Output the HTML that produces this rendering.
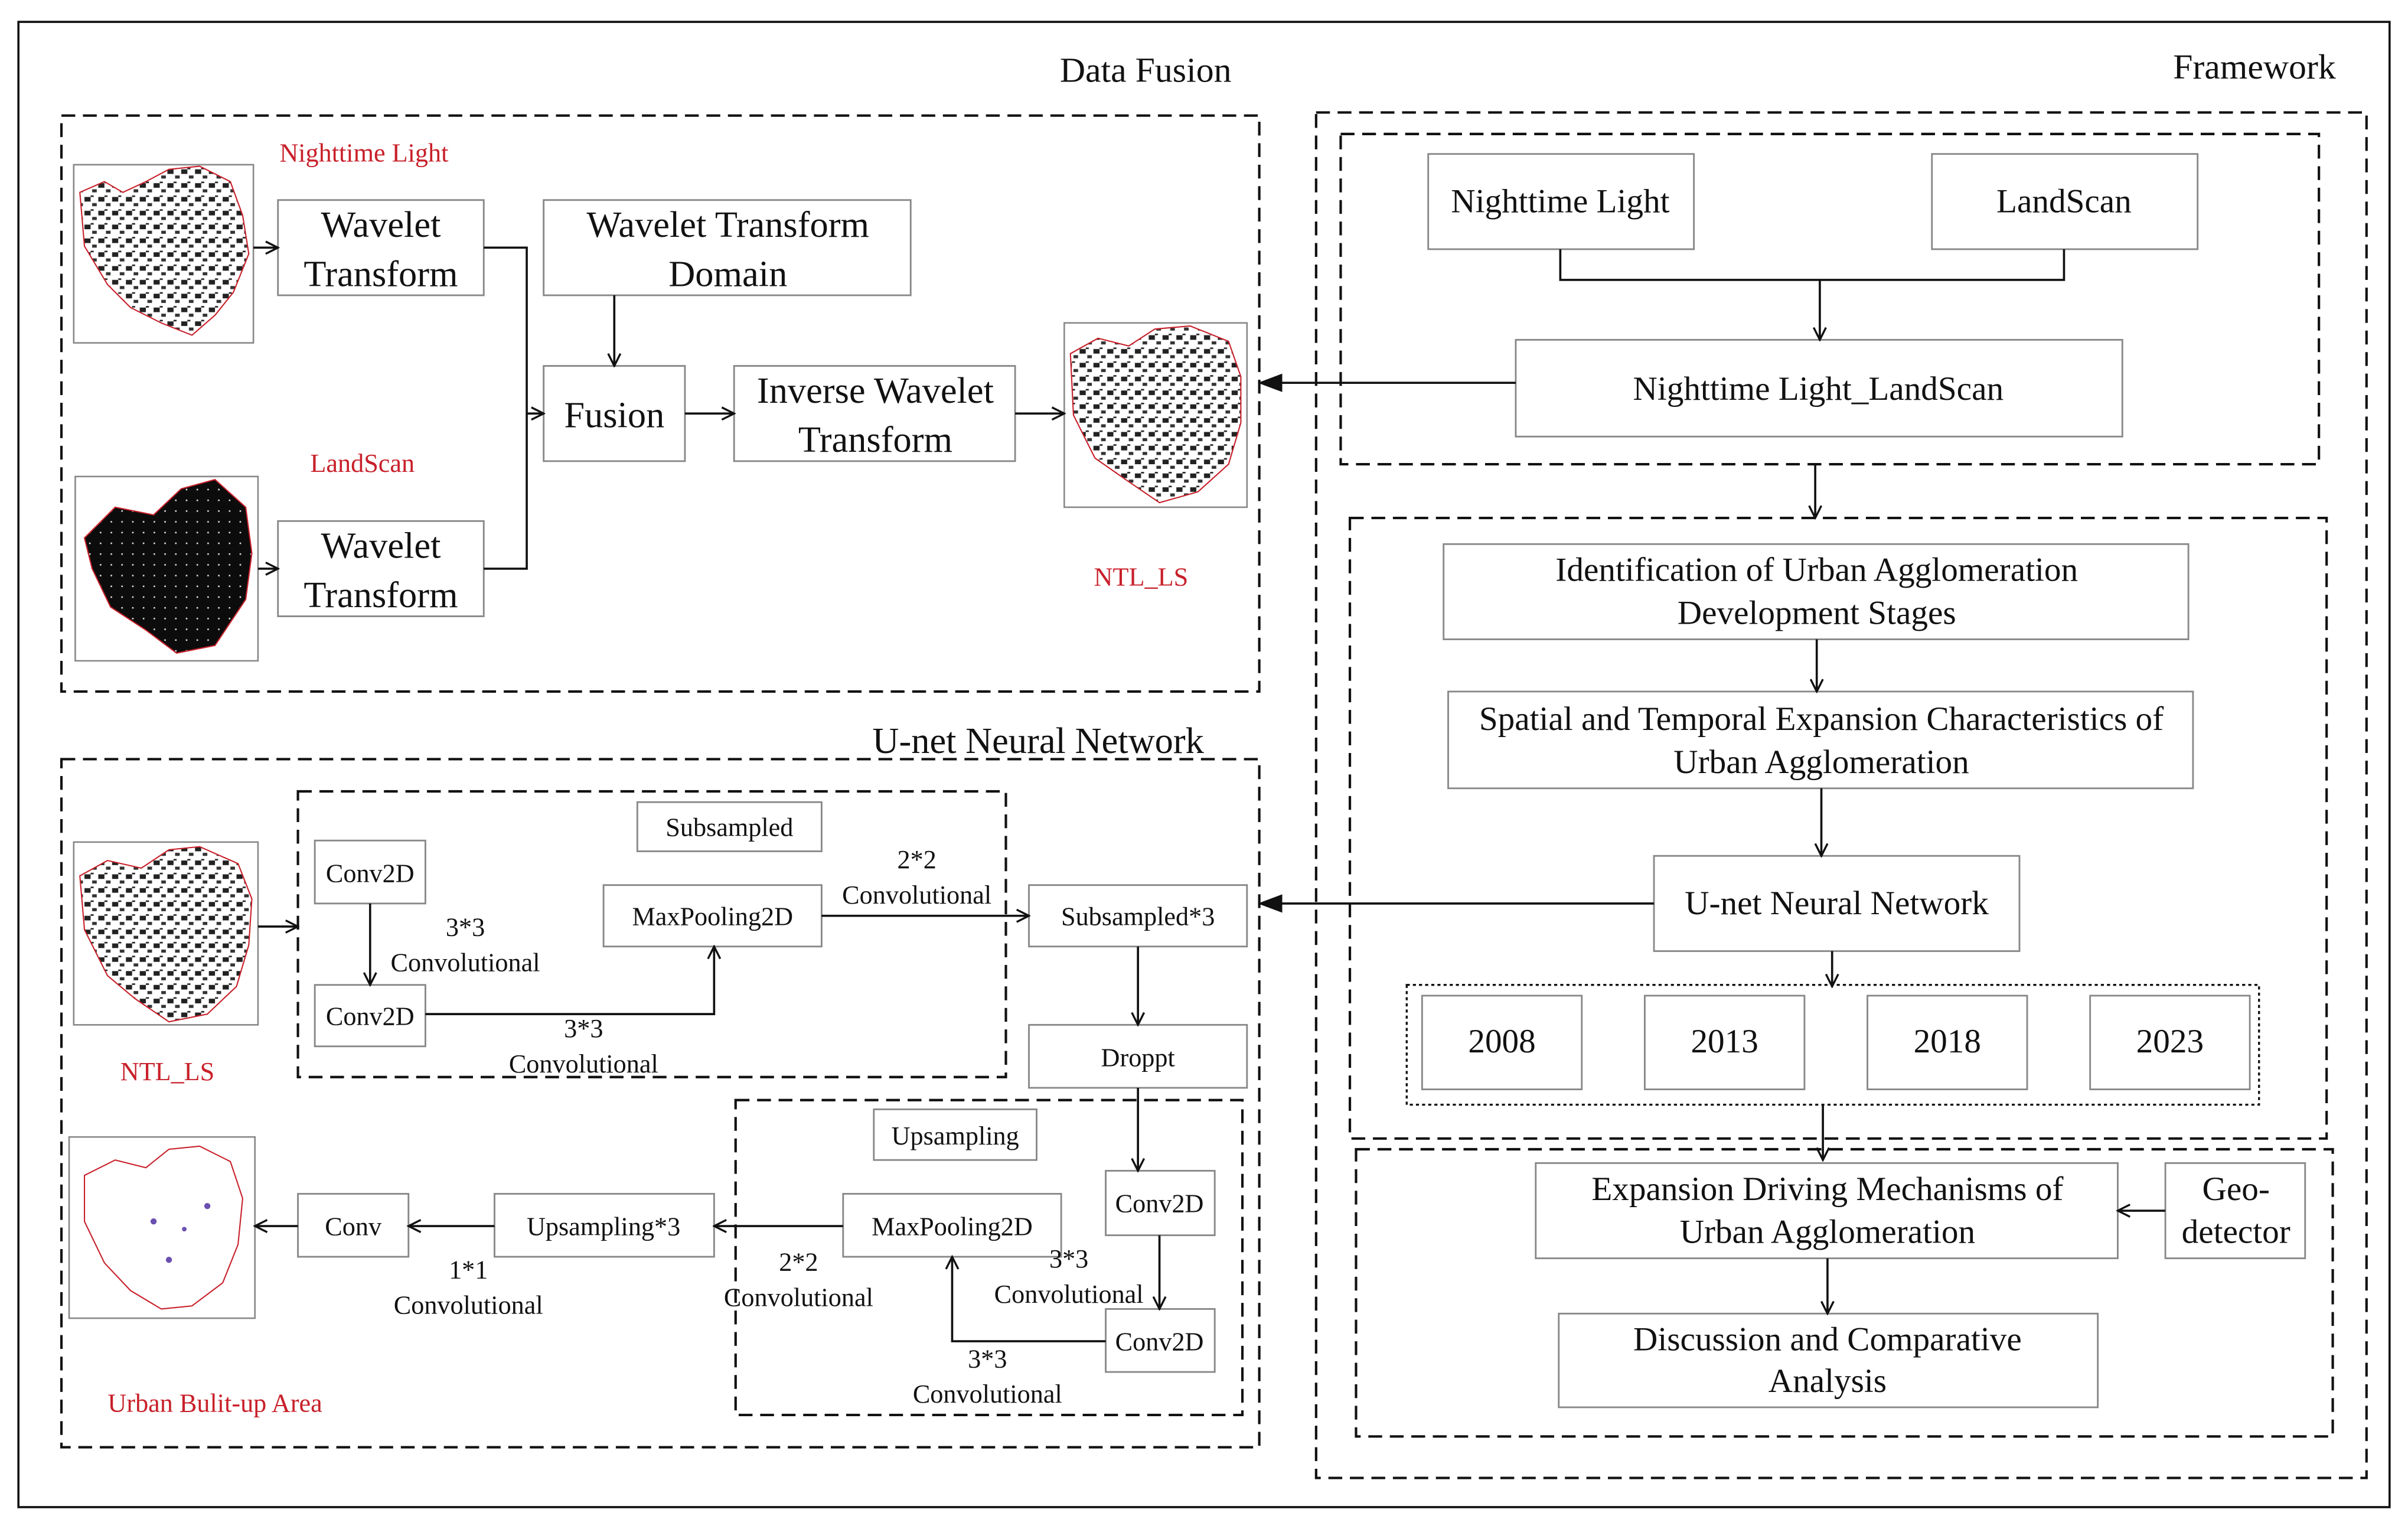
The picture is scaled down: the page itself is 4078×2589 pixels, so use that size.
<!DOCTYPE html>
<html><head><meta charset="utf-8">
<style>
html,body{margin:0;padding:0;background:#fff;}
svg{display:block;}
text{font-family:"Liberation Serif",serif;fill:#111;}
.r{fill:#c8202a;}
</style></head>
<body>
<svg width="4078" height="2589" viewBox="0 0 1568 995" xmlns="http://www.w3.org/2000/svg">
<defs>
<marker id="a" markerWidth="10" markerHeight="10" refX="9" refY="5" orient="auto" markerUnits="userSpaceOnUse">
<path d="M1,1 L9,5 L1,9" fill="none" stroke="#111" stroke-width="1.3"/></marker>
<marker id="f" markerWidth="16" markerHeight="12" refX="15" refY="6" orient="auto" markerUnits="userSpaceOnUse">
<path d="M0,0 L16,6 L0,12 Z" fill="#111"/></marker>
<pattern id="sp" width="9" height="9" patternUnits="userSpaceOnUse">
<rect width="9" height="9" fill="#fff"/><rect x="1" y="2" width="4" height="3" fill="#222"/><rect x="6" y="6" width="3" height="2" fill="#333"/><rect x="5" y="1" width="2" height="1" fill="#222"/></pattern>
<pattern id="sw" width="7" height="7" patternUnits="userSpaceOnUse">
<rect width="7" height="7" fill="#0c0c0c"/><rect x="2" y="3" width="1" height="1" fill="#ddd"/></pattern>
</defs>
<g fill="none" stroke="#111" stroke-width="1.4">
<rect x="12" y="14" width="1544" height="967"/>
</g>
<g fill="none" stroke="#111" stroke-width="1.6" stroke-dasharray="9,5">
<rect x="40" y="75" width="780" height="375"/>
<rect x="857" y="73" width="684" height="889"/>
<rect x="873" y="87" width="637" height="215"/>
<rect x="879" y="337" width="636" height="404"/>
<rect x="883" y="748" width="636" height="187"/>
<rect x="40" y="494" width="780" height="448"/>
<rect x="194" y="515" width="461" height="186"/>
<rect x="479" y="716" width="330" height="205"/>
</g>
<rect x="916" y="641" width="555" height="78" fill="none" stroke="#111" stroke-width="1.3" stroke-dasharray="2,2"/>
<text x="746" y="53" font-size="23" text-anchor="middle">Data Fusion</text>
<text x="1468" y="51" font-size="23" text-anchor="middle">Framework</text>
<text x="676" y="490" font-size="24" text-anchor="middle">U-net Neural Network</text>

<g stroke="#888" stroke-width="1" fill="#fff">
<rect x="48" y="107" width="117" height="116"/>
<rect x="49" y="310" width="119" height="120"/>
<rect x="693" y="210" width="119" height="120"/>
<rect x="48" y="548" width="120" height="119"/>
<rect x="45" y="740" width="121" height="118"/>
</g>
<g stroke="#c8202a" stroke-width="0.8">
<path d="M52,125 L68,118 L80,125 L95,118 L110,110 L130,108 L150,118 L158,140 L162,165 L152,190 L140,205 L125,218 L105,210 L85,200 L70,185 L55,160 Z" fill="url(#sp)"/>
<path d="M55,350 L75,330 L100,335 L118,318 L140,312 L160,330 L164,360 L160,390 L140,420 L115,425 L95,410 L72,395 L60,370 Z" fill="url(#sw)"/>
<path d="M697,230 L715,220 L735,225 L752,214 L775,212 L800,222 L808,245 L808,275 L800,302 L780,320 L755,327 L733,312 L713,298 L699,270 Z" fill="url(#sp)"/>
<path d="M52,570 L70,560 L92,565 L110,553 L130,551 L155,562 L164,585 L162,615 L154,642 L135,660 L110,665 L88,650 L70,635 L55,605 Z" fill="url(#sp)"/>
<path d="M55,765 L75,755 L95,760 L110,748 L130,746 L150,756 L158,780 L155,810 L145,835 L125,850 L105,852 L85,840 L68,822 L55,795 Z" fill="#fff"/>
</g>
<g fill="#6a4fb0"><circle cx="100" cy="795" r="2"/><circle cx="110" cy="820" r="2"/><circle cx="135" cy="785" r="2"/><circle cx="120" cy="800" r="1.5"/></g>
<text class="r" x="237" y="105" font-size="17" text-anchor="middle">Nighttime Light</text>
<text class="r" x="236" y="307" font-size="17" text-anchor="middle">LandScan</text>
<text class="r" x="743" y="381" font-size="17" text-anchor="middle">NTL_LS</text>
<text class="r" x="109" y="703" font-size="17" text-anchor="middle">NTL_LS</text>
<text class="r" x="140" y="919" font-size="17" text-anchor="middle">Urban Bulit-up Area</text>

<g fill="#fff" stroke="#888" stroke-width="1.1">
<rect x="181" y="130" width="134" height="62"/>
<rect x="181" y="339" width="134" height="62"/>
<rect x="354" y="130" width="239" height="62"/>
<rect x="354" y="238" width="92" height="62"/>
<rect x="478" y="238" width="183" height="62"/>
<rect x="930" y="100" width="173" height="62"/>
<rect x="1258" y="100" width="173" height="62"/>
<rect x="987" y="221" width="395" height="63"/>
<rect x="940" y="354" width="485" height="62"/>
<rect x="943" y="450" width="485" height="63"/>
<rect x="1077" y="557" width="238" height="62"/>
<rect x="926" y="648" width="104" height="61"/>
<rect x="1071" y="648" width="104" height="61"/>
<rect x="1216" y="648" width="104" height="61"/>
<rect x="1361" y="648" width="104" height="61"/>
<rect x="1000" y="757" width="379" height="62"/>
<rect x="1410" y="757" width="91" height="62"/>
<rect x="1015" y="855" width="351" height="61"/>
<rect x="415" y="522" width="120" height="32"/>
<rect x="205" y="547" width="72" height="41"/>
<rect x="205" y="641" width="72" height="40"/>
<rect x="393" y="576" width="142" height="40"/>
<rect x="670" y="576" width="142" height="40"/>
<rect x="670" y="667" width="142" height="41"/>
<rect x="569" y="722" width="106" height="33"/>
<rect x="720" y="762" width="71" height="42"/>
<rect x="720" y="852" width="71" height="41"/>
<rect x="549" y="777" width="142" height="41"/>
<rect x="322" y="777" width="143" height="41"/>
<rect x="194" y="777" width="72" height="41"/>
</g>
<g font-size="24" text-anchor="middle">
<text x="248" y="154">Wavelet</text><text x="248" y="186">Transform</text>
<text x="248" y="363">Wavelet</text><text x="248" y="395">Transform</text>
<text x="474" y="154">Wavelet Transform</text><text x="474" y="186">Domain</text>
<text x="400" y="278">Fusion</text>
<text x="570" y="262">Inverse Wavelet</text><text x="570" y="294">Transform</text>
</g>
<g font-size="22" text-anchor="middle">
<text x="1016" y="138">Nighttime Light</text>
<text x="1344" y="138">LandScan</text>
<text x="1184" y="260">Nighttime Light_LandScan</text>
<text x="1183" y="378">Identification of Urban Agglomeration</text>
<text x="1183" y="406">Development Stages</text>
<text x="1186" y="475">Spatial and Temporal Expansion Characteristics of</text>
<text x="1186" y="503">Urban Agglomeration</text>
<text x="1196" y="595">U-net Neural Network</text>
<text x="978" y="685">2008</text><text x="1123" y="685">2013</text><text x="1268" y="685">2018</text><text x="1413" y="685">2023</text>
<text x="1190" y="781">Expansion Driving Mechanisms of</text>
<text x="1190" y="809">Urban Agglomeration</text>
<text x="1456" y="781">Geo-</text><text x="1456" y="809">detector</text>
<text x="1190" y="879">Discussion and Comparative</text>
<text x="1190" y="906">Analysis</text>
</g>
<g font-size="17" text-anchor="middle">
<text x="475" y="544">Subsampled</text>
<text x="241" y="574">Conv2D</text>
<text x="241" y="667">Conv2D</text>
<text x="464" y="602">MaxPooling2D</text>
<text x="741" y="602">Subsampled*3</text>
<text x="741" y="694">Droppt</text>
<text x="622" y="745">Upsampling</text>
<text x="755" y="789">Conv2D</text>
<text x="755" y="879">Conv2D</text>
<text x="620" y="804">MaxPooling2D</text>
<text x="393" y="804">Upsampling*3</text>
<text x="230" y="804">Conv</text>
<text x="303" y="609">3*3</text><text x="303" y="632">Convolutional</text>
<text x="380" y="675">3*3</text><text x="380" y="698">Convolutional</text>
<text x="597" y="565">2*2</text><text x="597" y="588">Convolutional</text>
<text x="696" y="825">3*3</text><text x="696" y="848">Convolutional</text>
<text x="643" y="890">3*3</text><text x="643" y="913">Convolutional</text>
<text x="520" y="827">2*2</text><text x="520" y="850">Convolutional</text>
<text x="305" y="832">1*1</text><text x="305" y="855">Convolutional</text>
</g>
<g fill="none" stroke="#111" stroke-width="1.4">
<line x1="165" y1="161" x2="181" y2="161" marker-end="url(#a)"/>
<line x1="168" y1="370" x2="181" y2="370" marker-end="url(#a)"/>
<polyline points="315,161 343,161 343,370 315,370"/>
<line x1="343" y1="269" x2="354" y2="269" marker-end="url(#a)"/>
<line x1="400" y1="192" x2="400" y2="238" marker-end="url(#a)"/>
<line x1="446" y1="269" x2="478" y2="269" marker-end="url(#a)"/>
<line x1="661" y1="269" x2="693" y2="269" marker-end="url(#a)"/>
<polyline points="1016,162 1016,182 1344,182 1344,162"/>
<line x1="1185" y1="182" x2="1185" y2="221" marker-end="url(#a)"/>
<line x1="987" y1="249" x2="820" y2="249" marker-end="url(#f)"/>
<line x1="1182" y1="302" x2="1182" y2="337" marker-end="url(#a)"/>
<line x1="1183" y1="416" x2="1183" y2="450" marker-end="url(#a)"/>
<line x1="1186" y1="513" x2="1186" y2="557" marker-end="url(#a)"/>
<line x1="1077" y1="588" x2="820" y2="588" marker-end="url(#f)"/>
<line x1="1193" y1="619" x2="1193" y2="642" marker-end="url(#a)"/>
<line x1="1187" y1="719" x2="1187" y2="755" marker-end="url(#a)"/>
<line x1="1410" y1="788" x2="1379" y2="788" marker-end="url(#a)"/>
<line x1="1190" y1="819" x2="1190" y2="855" marker-end="url(#a)"/>
<line x1="168" y1="603" x2="194" y2="603" marker-end="url(#a)"/>
<line x1="241" y1="588" x2="241" y2="641" marker-end="url(#a)"/>
<polyline points="277,660 465,660 465,616" marker-end="url(#a)"/>
<line x1="535" y1="596" x2="670" y2="596" marker-end="url(#a)"/>
<line x1="741" y1="616" x2="741" y2="667" marker-end="url(#a)"/>
<line x1="741" y1="708" x2="741" y2="762" marker-end="url(#a)"/>
<line x1="755" y1="804" x2="755" y2="852" marker-end="url(#a)"/>
<polyline points="720,873 620,873 620,818" marker-end="url(#a)"/>
<line x1="549" y1="798" x2="465" y2="798" marker-end="url(#a)"/>
<line x1="322" y1="798" x2="266" y2="798" marker-end="url(#a)"/>
<line x1="194" y1="798" x2="166" y2="798" marker-end="url(#a)"/>
</g>
</svg>
</body></html>
